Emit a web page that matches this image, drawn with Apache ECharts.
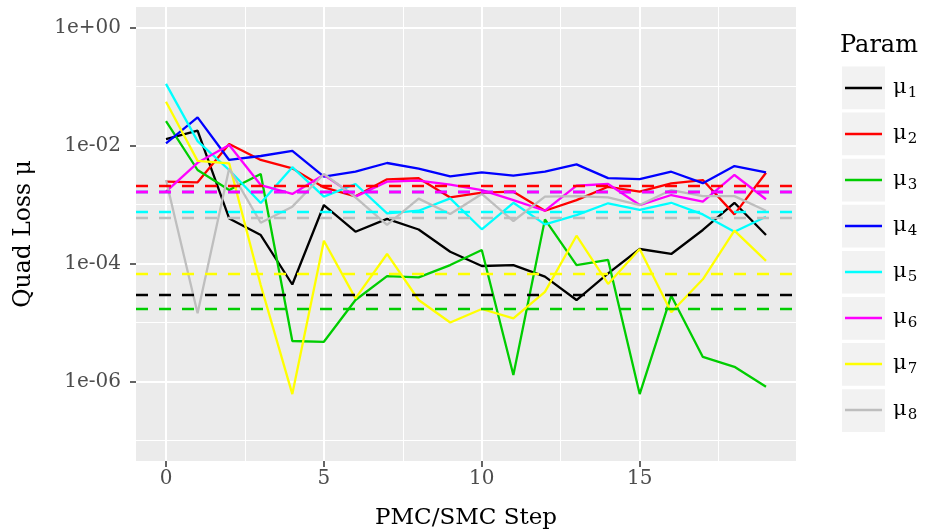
<!DOCTYPE html>
<html><head><meta charset="utf-8">
<script src="https://cdn.jsdelivr.net/npm/echarts@6/dist/echarts.min.js"></script>
<style>html,body{margin:0;padding:0;background:#fff}#c{width:925px;height:531px}</style>
</head><body><div id="c"></div>
<script>
// ---- data ----
const steps = [0,1,2,3,4,5,6,7,8,9,10,11,12,13,14,15,16,17,18,19];
const paramNames = ['μ1','μ2','μ3','μ4','μ5','μ6','μ7','μ8'];
const paramColors = ['#000000','#FF0000','#00CD00','#0000FF','#00FFFF','#FF00FF','#FFFF00','#BEBEBE'];
const mu1 = [1.29e-2,1.79e-2,5.8e-4,3.04e-4,4.4e-5,9.8e-4,3.46e-4,5.7e-4,3.77e-4,1.58e-4,9.06e-5,9.4e-5,5.97e-5,2.4e-5,6.8e-5,1.76e-4,1.45e-4,3.7e-4,1.07e-3,3.04e-4];
const mu2 = [2.44e-3,2.38e-3,1.06e-2,5.7e-3,4.1e-3,1.95e-3,1.38e-3,2.68e-3,2.79e-3,1.32e-3,1.59e-3,1.65e-3,7.85e-4,1.19e-3,2.0e-3,1.65e-3,2.29e-3,2.6e-3,6.8e-4,3.46e-3];
const mu3 = [2.6e-2,3.85e-3,1.76e-3,3.3e-3,4.84e-6,4.7e-6,2.4e-5,6.1e-5,5.8e-5,9.4e-5,1.69e-4,1.28e-6,5.6e-4,9.4e-5,1.15e-4,6.1e-7,2.84e-5,2.6e-6,1.77e-6,8.1e-7];
const mu4 = [1.09e-2,3.0e-2,5.7e-3,6.65e-3,8.1e-3,2.96e-3,3.6e-3,5.06e-3,4.08e-3,3.0e-3,3.5e-3,3.1e-3,3.6e-3,4.8e-3,2.8e-3,2.7e-3,3.6e-3,2.3e-3,4.5e-3,3.5e-3];
const mu5 = [0.111,1.19e-2,3.85e-3,1.06e-3,4.3e-3,1.36e-3,2.23e-3,7.1e-4,7.85e-4,1.27e-3,3.8e-4,1.07e-3,4.6e-4,6.6e-4,1.05e-3,8.1e-4,1.07e-3,6.8e-4,3.46e-4,6.2e-4];
const mu6 = [1.65e-3,5.1e-3,1.02e-2,2.14e-3,1.51e-3,3.2e-3,1.36e-3,2.44e-3,2.55e-3,2.18e-3,1.76e-3,1.19e-3,7.85e-4,2.09e-3,2.23e-3,9.8e-4,1.45e-3,1.12e-3,3.17e-3,1.23e-3];
const mu7 = [5.55e-2,5.5e-3,5.0e-3,4.3e-5,6.1e-7,2.43e-4,2.56e-5,1.45e-4,2.4e-5,1.0e-5,1.69e-5,1.17e-5,3.3e-5,2.96e-4,4.5e-5,1.76e-4,1.49e-5,5.4e-5,3.6e-4,1.11e-4];
const mu8 = [2.6e-3,1.43e-5,4.1e-3,4.9e-4,9.2e-4,3.3e-3,1.32e-3,4.5e-4,1.26e-3,6.9e-4,1.51e-3,5.25e-4,1.36e-3,1.39e-3,1.32e-3,9.8e-4,1.76e-3,1.39e-3,1.39e-3,7.85e-4];
const reference = [2.92e-5,2.06e-3,1.69e-5,1.61e-3,7.5e-4,1.61e-3,6.8e-5,6.07e-4];
const yTickValues = [1e-6,1e-4,1e-2,1];
const yTickLabels = ['1e-06','1e-04','1e-02','1e+00'];
const yMinorValues = [1e-7,1e-5,1e-3,1e-1];
const yLimits = [1e-7,1];
const xTicks = [0,5,10,15];
const xMinor = [2.5,7.5,12.5,17.5];

// ---- build ----
const FONT = '"DejaVu Serif", serif';
const lg = v => Math.log10(v);
const values = [mu1,mu2,mu3,mu4,mu5,mu6,mu7,mu8];
const yLo = lg(yLimits[0]), yHi = lg(yLimits[1]);
const yPad = (yHi - yLo) * 0.05;
const xPad = (steps[steps.length-1] - steps[0]) * 0.05;
const xMin = steps[0] - xPad, xMax = steps[steps.length-1] + xPad;
const yMin = yLo - yPad, yMax = yHi + yPad;
const LW = 2.3;

const series = [];
paramNames.forEach((name, i) => {
  series.push({
    name, type: 'line', xAxisIndex: 0, yAxisIndex: 0,
    data: steps.map((s, k) => [s, lg(values[i][k])]),
    symbol: 'none', showSymbol: false, silent: true,
    lineStyle: {color: paramColors[i], width: LW},
    itemStyle: {color: paramColors[i]},
    emphasis: {disabled: true}, z: 3
  });
});
paramNames.forEach((name, i) => {
  series.push({
    name: name + '_ref', type: 'line', xAxisIndex: 0, yAxisIndex: 0, data: [],
    silent: true, z: 4,
    markLine: {
      symbol: ['none','none'], silent: true, animation: false,
      label: {show: false}, emphasis: {disabled: true},
      lineStyle: {color: paramColors[i], width: LW, type: [12, 11], opacity: 1},
      data: [{yAxis: lg(reference[i])}]
    }
  });
});

const boxes = paramNames.map((n, i) => ({
  type: 'rect', left: 842, top: 66.5 + 46.1 * i, z: 0, silent: true,
  shape: {width: 43, height: 42.7}, style: {fill: '#F2F2F2'}
}));

const option = {
  animation: false,
  backgroundColor: '#FFFFFF',
  title: {text: 'Param', left: 840, top: 34, padding: 0,
    textStyle: {fontFamily: FONT, fontSize: 24, fontWeight: 'normal', color: '#000'}},
  grid: {left: 136, top: 7, right: 129, bottom: 70, show: true, backgroundColor: '#EBEBEB', borderWidth: 0,
    containLabel: false, outerBoundsMode: 'none'},
  legend: {
    data: paramNames, orient: 'vertical', left: 845, top: 65, padding: 0,
    icon: 'rect', itemWidth: 37, itemHeight: 2.6, itemGap: 0, selectedMode: false,
    formatter: n => '{m|' + n.charAt(0) + '}{s|' + n.slice(1) + '}',
    textStyle: {fontFamily: FONT, fontSize: 21, color: '#000', lineHeight: 46, padding: [0,0,0,6],
      rich: {
        m: {fontFamily: FONT, fontSize: 21, color: '#000', lineHeight: 46},
        s: {fontFamily: FONT, fontSize: 15, color: '#000', lineHeight: 15, padding: [10,0,0,1]}
      }}
  },
  graphic: boxes,
  xAxis: [
    {type: 'value', min: xMin, max: xMax, position: 'bottom',
     name: 'PMC/SMC Step', nameLocation: 'middle', nameGap: 46,
     nameTextStyle: {fontFamily: FONT, fontSize: 23, color: '#000'},
     axisLine: {show: false, onZero: false},
     axisTick: {show: true, length: 6, lineStyle: {color: '#333333', width: 1.5}, customValues: xTicks},
     axisLabel: {show: true, fontFamily: FONT, fontSize: 20, color: '#4D4D4D', margin: 8, customValues: xTicks},
     splitLine: {show: true, lineStyle: {color: '#FFFFFF', width: 2}}},
    {type: 'value', min: xMin, max: xMax, position: 'bottom',
     axisLine: {show: false, onZero: false}, axisTick: {show: false, customValues: xMinor}, axisLabel: {show: false},
     splitLine: {show: true, lineStyle: {color: '#FFFFFF', width: 1}}}
  ],
  yAxis: [
    {type: 'value', min: yMin, max: yMax, position: 'left',
     name: 'Quad Loss μ', nameLocation: 'middle', nameGap: 100, nameRotate: 90,
     nameTextStyle: {fontFamily: FONT, fontSize: 23.5, color: '#000'},
     axisLine: {show: false, onZero: false},
     axisTick: {show: true, length: 6, lineStyle: {color: '#333333', width: 1.5}, customValues: yTickValues.map(lg)},
     axisLabel: {show: true, fontFamily: FONT, fontSize: 20, color: '#4D4D4D', margin: 15,
       customValues: yTickValues.map(lg),
       formatter: v => { const i = yTickValues.findIndex(t => Math.abs(lg(t) - v) < 1e-6); return i >= 0 ? yTickLabels[i] : ''; }},
     splitLine: {show: true, lineStyle: {color: '#FFFFFF', width: 2}}},
    {type: 'value', min: yMin, max: yMax, position: 'left',
     axisLine: {show: false, onZero: false}, axisTick: {show: false, customValues: yMinorValues.map(lg)}, axisLabel: {show: false},
     splitLine: {show: true, lineStyle: {color: '#FFFFFF', width: 1}}}
  ],
  series
};
const chart = echarts.init(document.getElementById('c'), null, {renderer: 'canvas'});
chart.setOption(option);
</script></body></html>
